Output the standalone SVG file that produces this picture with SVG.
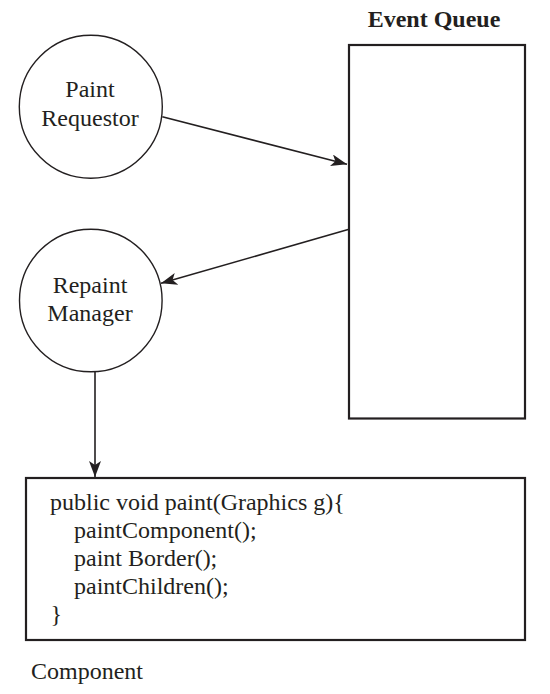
<svg xmlns="http://www.w3.org/2000/svg" width="550" height="694" viewBox="0 0 550 694">
  <style>
    .t { font-family: "Liberation Serif", "Times New Roman", serif; font-size: 24px; fill: #231f20; }
    .b { font-weight: bold; }
    .circ { fill: #ffffff; stroke: #231f20; stroke-width: 1.4; }
    .box { fill: #ffffff; stroke: #231f20; stroke-width: 2.2; }
    .conn { fill: none; stroke: #231f20; stroke-width: 1.6; }
  </style>
  <defs>
    <marker id="arr" viewBox="0 0 16 12" refX="16" refY="6" markerWidth="16" markerHeight="12" markerUnits="userSpaceOnUse" orient="auto">
      <path d="M0,0 L16,6 L0,12 L4,6 Z" fill="#231f20"/>
    </marker>
  </defs>
  <rect width="550" height="694" fill="#ffffff"/>

  <g id="event-queue">
    <text class="t b" x="434" y="27" text-anchor="middle">Event Queue</text>
    <rect class="box" x="349" y="45" width="176" height="373.5"/>
  </g>

  <g id="paint-requestor">
    <circle class="circ" cx="90.8" cy="106.7" r="71.5"/>
    <text class="t" x="90" y="97" text-anchor="middle">Paint</text>
    <text class="t" x="90" y="126" text-anchor="middle">Requestor</text>
  </g>

  <g id="repaint-manager">
    <circle class="circ" cx="90.8" cy="300.5" r="71.3"/>
    <text class="t" x="90" y="292.5" text-anchor="middle">Repaint</text>
    <text class="t" x="90" y="321" text-anchor="middle">Manager</text>
  </g>

  <g id="component">
    <rect class="box" x="26" y="478" width="499" height="162"/>
    <text class="t" x="50" y="510">public void paint(Graphics g){</text>
    <text class="t" x="74" y="538">paintComponent();</text>
    <text class="t" x="74" y="566">paint Border();</text>
    <text class="t" x="74" y="594">paintChildren();</text>
    <text class="t" x="50.5" y="622">}</text>
    <text class="t" x="31" y="679">Component</text>
  </g>

  <g id="connectors">
    <line class="conn" x1="162.3" y1="116.7" x2="347" y2="164.3" marker-end="url(#arr)"/>
    <line class="conn" x1="349" y1="229.3" x2="161" y2="283.3" marker-end="url(#arr)"/>
    <line class="conn" x1="95" y1="372" x2="95" y2="477" marker-end="url(#arr)"/>
  </g>
</svg>
